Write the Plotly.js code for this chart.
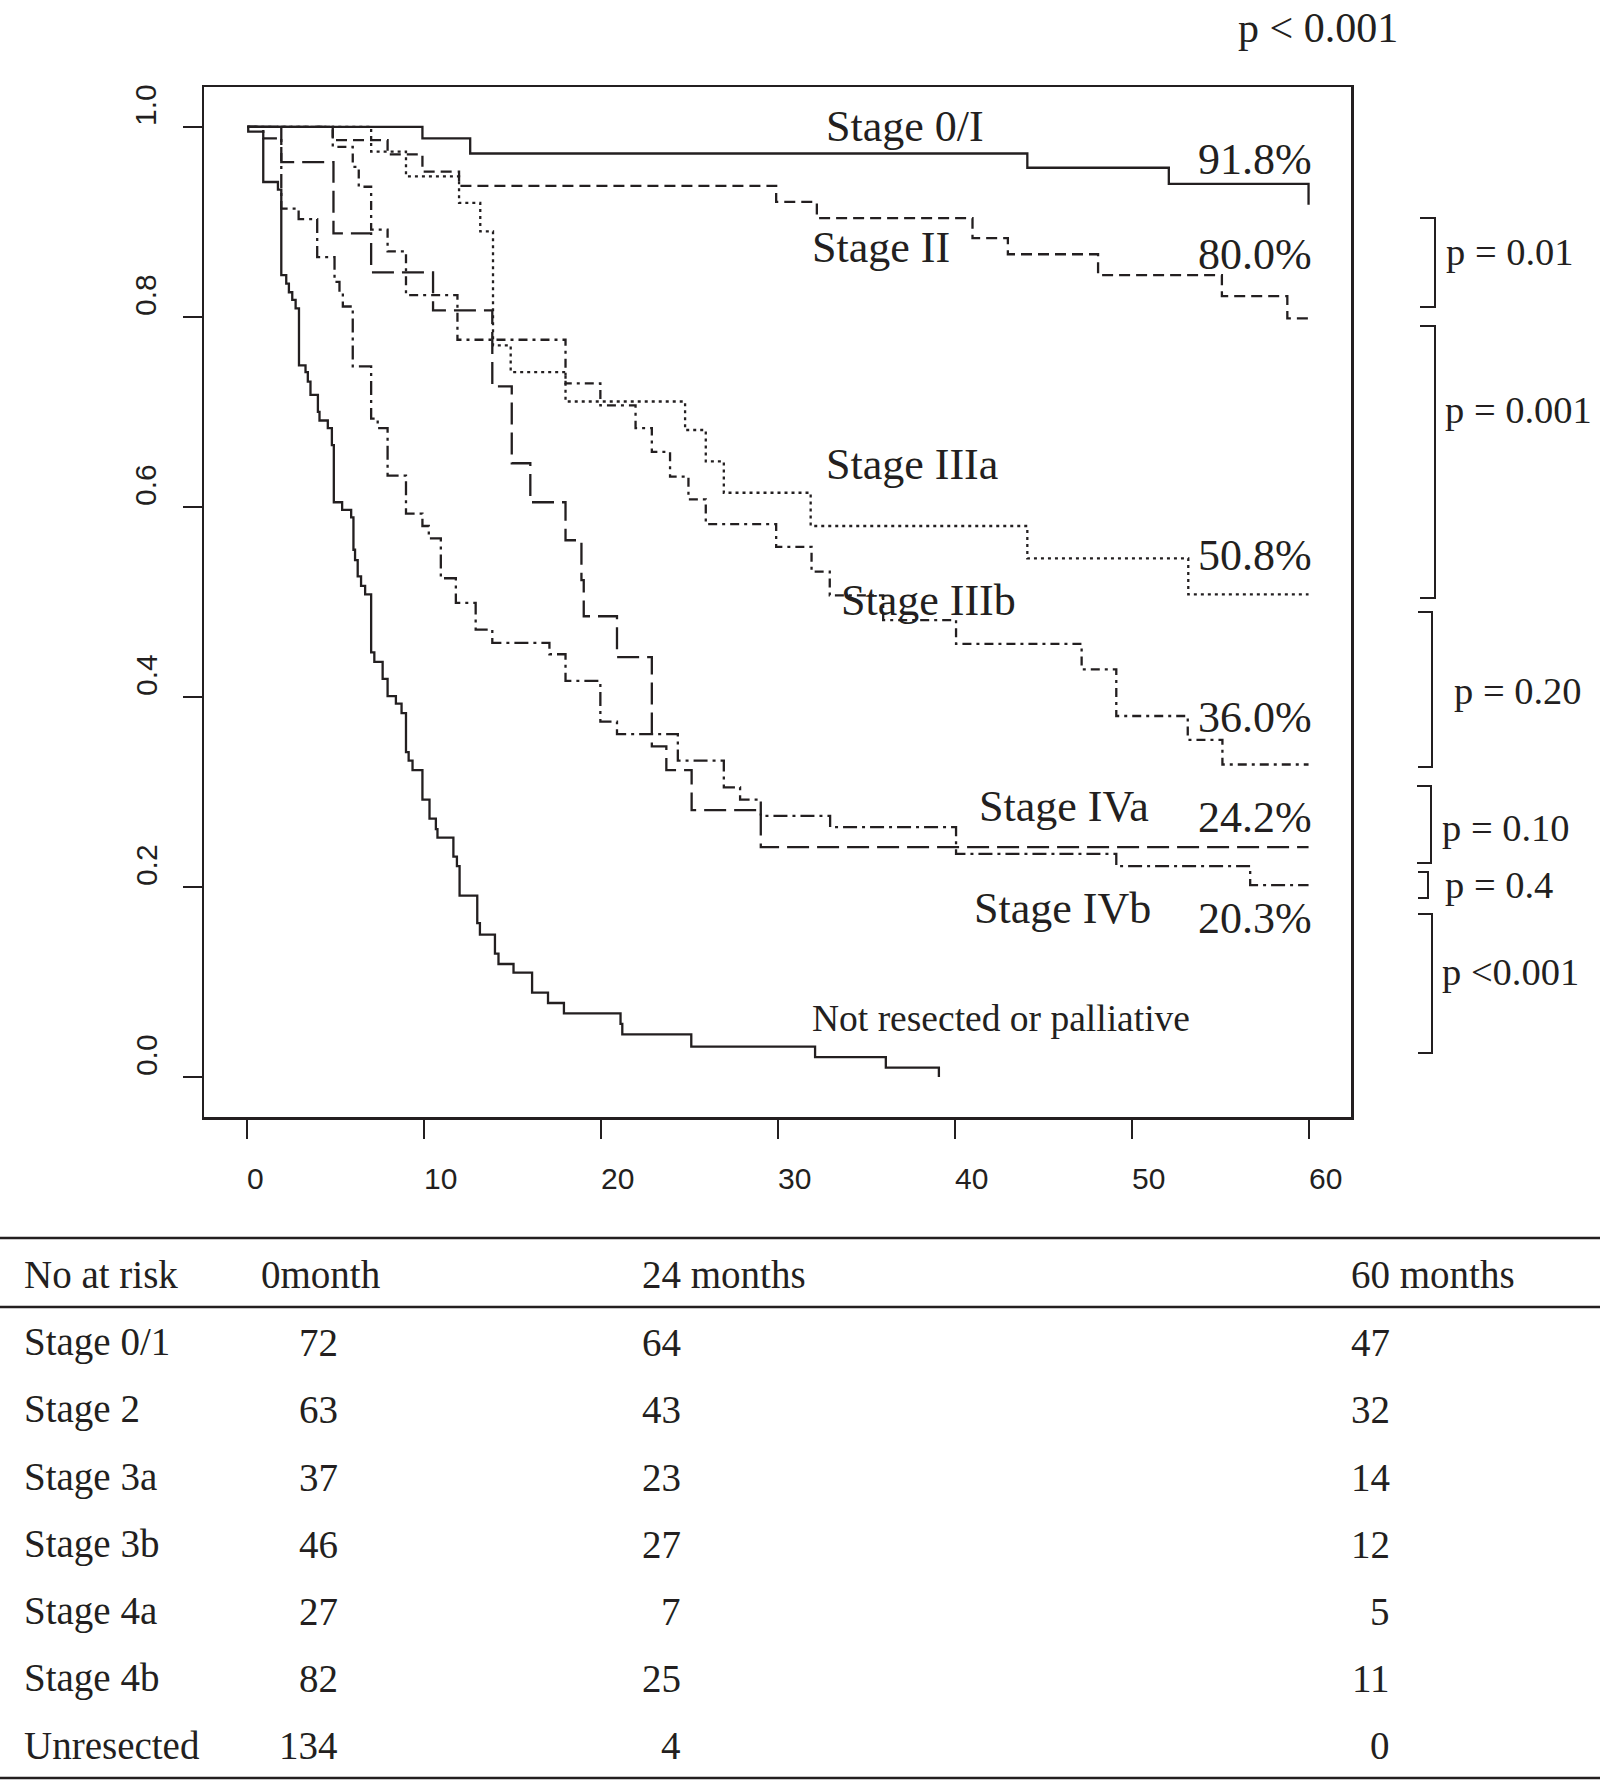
<!DOCTYPE html>
<html>
<head>
<meta charset="utf-8">
<script src="https://cdn.plot.ly/plotly-3.0.1.min.js"></script>
<style>html,body{margin:0;padding:0;background:#fff;}#chart{width:1600px;height:1780px;}</style>
</head>
<body>
<div id="chart"></div>
<script>
// ---------------- data ----------------
var stage0Time = [0, 9.9, 12.6, 44.1, 52.1, 60];
var stage0Surv = [1.0, 0.988, 0.972, 0.957, 0.940, 0.918];

var stage2Time = [0, 4.83, 7.93, 9.9, 11.97, 29.9, 32.2, 41.0, 43.0, 48.1, 55.1, 58.8, 60];
var stage2Surv = [1.0, 0.986, 0.971, 0.953, 0.938, 0.921, 0.904, 0.883, 0.866, 0.844, 0.822, 0.7985, 0.7985];

var stage3aTime = [0, 7.0, 8.97, 11.97, 13.17, 13.89, 14.89, 17.99, 24.75, 25.92, 26.94, 31.85, 44.1, 53.2, 60];
var stage3aSurv = [1.0, 0.974, 0.948, 0.920, 0.890, 0.770, 0.742, 0.711, 0.681, 0.648, 0.615, 0.580, 0.546, 0.508, 0.508];

var stage3bTime = [0, 4.83, 5.96, 6.3, 7.0, 7.93, 8.97, 11.88, 17.99, 19.96, 21.95, 22.87, 23.9, 24.94, 25.92, 29.9, 31.9, 32.93, 35.95, 40.07, 47.17, 49.13, 53.17, 55.13, 60];
var stage3bSurv = [1.0, 0.979, 0.958, 0.937, 0.892, 0.869, 0.823, 0.776, 0.730, 0.707, 0.683, 0.658, 0.632, 0.608, 0.582, 0.558, 0.532, 0.507, 0.481, 0.456, 0.429, 0.380, 0.355, 0.329, 0.329];

var stage4aTime = [0, 1.92, 4.87, 7.0, 10.5, 13.85, 14.95, 16.0, 17.99, 18.89, 19.02, 20.9, 22.87, 23.69, 25.12, 29.03, 60];
var stage4aSurv = [1.0, 0.963, 0.888, 0.847, 0.807, 0.727, 0.646, 0.605, 0.565, 0.523, 0.485, 0.442, 0.348, 0.323, 0.281, 0.242, 0.242];

var stage4bTime = [0, 0.9, 1.92, 2.9, 3.95, 4.93, 5.21, 5.4, 5.96, 7.0, 7.37, 7.93, 8.97, 9.9, 10.26, 10.94, 11.79, 12.91, 13.85, 17.08, 17.99, 19.96, 20.9, 24.34, 26.94, 27.86, 29.03, 32.95, 40.07, 49.13, 56.7, 60];
var stage4bSurv = [1.0, 0.988, 0.914, 0.903, 0.863, 0.837, 0.825, 0.811, 0.748, 0.693, 0.683, 0.633, 0.593, 0.580, 0.567, 0.525, 0.499, 0.471, 0.457, 0.445, 0.417, 0.374, 0.361, 0.333, 0.305, 0.292, 0.275, 0.263, 0.235, 0.222, 0.202, 0.202];

var unresTime = [0, 0.05, 0.9, 1.73, 1.92, 2.2, 2.35, 2.54, 2.73, 2.92, 3.29, 3.42, 3.57, 3.99, 4.08, 4.55, 4.78, 4.89, 5.36, 5.87, 6.0, 6.09, 6.24, 6.43, 6.66, 7.0, 7.18, 7.65, 7.93, 8.4, 8.72, 8.97, 9.12, 9.34, 9.9, 10.3, 10.66, 10.75, 11.65, 11.85, 12.0, 13.0, 13.15, 14.0, 14.2, 15.05, 16.1, 17.0, 17.9, 21.1, 21.2, 25.1, 32.1, 36.1, 39.1];
var unresSurv = [1.0, 0.995, 0.942, 0.934, 0.844, 0.835, 0.826, 0.818, 0.809, 0.749, 0.742, 0.732, 0.718, 0.700, 0.691, 0.683, 0.665, 0.605, 0.597, 0.589, 0.555, 0.544, 0.527, 0.517, 0.508, 0.447, 0.437, 0.419, 0.401, 0.393, 0.383, 0.342, 0.333, 0.323, 0.292, 0.272, 0.261, 0.252, 0.232, 0.222, 0.191, 0.162, 0.150, 0.130, 0.119, 0.110, 0.089, 0.078, 0.067, 0.056, 0.045, 0.032, 0.021, 0.010, 0.0];

var curveLabels = ['Stage 0/I', 'Stage II', 'Stage IIIa', 'Stage IIIb', 'Stage IVa', 'Stage IVb', 'Not resected or palliative'];
var pctLabels = ['91.8%', '80.0%', '50.8%', '36.0%', '24.2%', '20.3%'];
var pLabels = ['p = 0.01', 'p = 0.001', 'p = 0.20', 'p = 0.10', 'p = 0.4', 'p <0.001'];
var overallP = 'p < 0.001';

var xTicks = [0, 10, 20, 30, 40, 50, 60];
var yTicks = [0, 0.2, 0.4, 0.6, 0.8, 1.0];

var riskHeader = ['No at risk', '0month', '24 months', '60 months'];
var riskGroups = ['Stage 0/1', 'Stage 2', 'Stage 3a', 'Stage 3b', 'Stage 4a', 'Stage 4b', 'Unresected'];
var risk0 = [72, 63, 37, 46, 27, 82, 134];
var risk24 = [64, 43, 23, 27, 7, 25, 4];
var risk60 = [47, 32, 14, 12, 5, 11, 0];

// ---------------- layout helpers ----------------
var INK = '#231f20';
var SERIF = '"Liberation Serif", "Times New Roman", Times, serif';
var SANS = '"Liberation Sans", Arial, Helvetica, sans-serif';
var L = 204, R = 1351, T = 87, B = 1117, W = 1600, H = 1780;
function px(x) { return (x - L) / (R - L); }
function py(y) { return (B - y) / (B - T); }

var curves = [
  {t: stage0Time, s: stage0Surv, dash: 'solid'},
  {t: stage2Time, s: stage2Surv, dash: '11px,6px'},
  {t: stage3aTime, s: stage3aSurv, dash: '3px,4px'},
  {t: stage3bTime, s: stage3bSurv, dash: '9px,5px,3px,5px'},
  {t: stage4aTime, s: stage4aSurv, dash: '22px,8px'},
  {t: stage4bTime, s: stage4bSurv, dash: '14px,5px,3px,5px'},
  {t: unresTime, s: unresSurv, dash: 'solid'}
];

var traces = curves.map(function (c, i) {
  return {
    x: c.t, y: c.s, type: 'scatter', mode: 'lines', name: curveLabels[i],
    line: {shape: 'hv', width: 2.3, color: INK, dash: c.dash},
    hoverinfo: 'skip'
  };
});

var ann = [];
function txt(o) { o.showarrow = false; ann.push(o); }

// curve labels (data-anchored)
var labelPos = [[37.2, 1.0], [35.85, 0.873], [37.6, 0.645], [38.5, 0.502], [46.2, 0.285], [46.1, 0.177], [42.6, 0.062]];
curveLabels.forEach(function (lab, i) {
  txt({x: labelPos[i][0], y: labelPos[i][1], xref: 'x', yref: 'y', text: lab,
       font: {family: SERIF, size: i === 6 ? 37.5 : 44, color: INK}, xanchor: 'center', yanchor: 'middle'});
});
var pctPos = [0.966, 0.866, 0.549, 0.378, 0.273, 0.167];
pctLabels.forEach(function (lab, i) {
  txt({x: 60.3, y: pctPos[i], xref: 'x', yref: 'y', text: lab,
       font: {family: SERIF, size: 44, color: INK}, xanchor: 'right', yanchor: 'middle'});
});

// x tick labels, left-anchored at tick
xTicks.forEach(function (v) {
  txt({x: v, y: py(1178), xref: 'x', yref: 'paper', text: String(v), xshift: -2,
       font: {family: SANS, size: 30, color: INK}, xanchor: 'left', yanchor: 'middle'});
});
// y tick labels, rotated, starting at tick
yTicks.forEach(function (v) {
  txt({x: px(146), y: v, xref: 'paper', yref: 'y', text: v.toFixed(1), textangle: -90, yshift: -1,
       font: {family: SANS, size: 30, color: INK}, xanchor: 'center', yanchor: 'bottom'});
});

// overall p
txt({x: px(1236), y: py(28), xref: 'paper', yref: 'paper', text: overallP,
     font: {family: SERIF, size: 42, color: INK}, xanchor: 'left', yanchor: 'middle'});

// brackets + pairwise p
var brackets = [[1420, 1435, 218, 307], [1420, 1435, 326, 598], [1418, 1432, 612, 767], [1417, 1431, 786, 863], [1418, 1428, 872, 898], [1418, 1432, 914, 1053]];
var pTextPos = [[1446, 252], [1445, 410], [1454, 691], [1442, 828], [1445, 885], [1442, 972]];
var shapes = [];
brackets.forEach(function (b, i) {
  shapes.push({type: 'path', xref: 'paper', yref: 'paper',
    path: 'M' + px(b[0]) + ',' + py(b[2]) + ' L' + px(b[1]) + ',' + py(b[2]) + ' L' + px(b[1]) + ',' + py(b[3]) + ' L' + px(b[0]) + ',' + py(b[3]),
    line: {color: INK, width: 2}});
  txt({x: px(pTextPos[i][0] - 2), y: py(pTextPos[i][1]), xref: 'paper', yref: 'paper', text: pLabels[i],
       font: {family: SERIF, size: 38.5, color: INK}, xanchor: 'left', yanchor: 'middle'});
});

// at-risk table
[1238, 1307, 1778].forEach(function (yy) {
  shapes.push({type: 'line', xref: 'paper', yref: 'paper', x0: px(0), x1: px(1600), y0: py(yy), y1: py(yy),
               line: {color: INK, width: 2.5}});
});
var headX = [24, 261, 642, 1351];
riskHeader.forEach(function (h, i) {
  txt({x: px(headX[i] - 2), y: py(1274), xref: 'paper', yref: 'paper', text: h,
       font: {family: SERIF, size: 39, color: INK}, xanchor: 'left', yanchor: 'middle'});
});
var rowY = [1342, 1409, 1477, 1544, 1611, 1678, 1745];
riskGroups.forEach(function (g, i) {
  var f = {family: SERIF, size: 39, color: INK};
  txt({x: px(22), y: py(rowY[i]), xref: 'paper', yref: 'paper', text: g, font: f, xanchor: 'left', yanchor: 'middle'});
  txt({x: px(340), y: py(rowY[i]), xref: 'paper', yref: 'paper', text: String(risk0[i]), font: f, xanchor: 'right', yanchor: 'middle'});
  txt({x: px(683), y: py(rowY[i]), xref: 'paper', yref: 'paper', text: String(risk24[i]), font: f, xanchor: 'right', yanchor: 'middle'});
  txt({x: px(1392), y: py(rowY[i]), xref: 'paper', yref: 'paper', text: String(risk60[i]), font: f, xanchor: 'right', yanchor: 'middle'});
});

var layout = {
  width: W, height: H,
  margin: {l: L, r: W - R, t: T, b: H - B, pad: 0},
  paper_bgcolor: '#ffffff', plot_bgcolor: '#ffffff',
  showlegend: false,
  xaxis: {range: [-2.45, 62.4], tickvals: xTicks, showticklabels: false, ticks: 'outside', ticklen: 19, tickwidth: 2,
          tickcolor: INK, showgrid: false, zeroline: false, showline: true, linecolor: INK, linewidth: 2.5, mirror: true},
  yaxis: {range: [-0.042, 1.042], tickvals: yTicks, showticklabels: false, ticks: 'outside', ticklen: 19, tickwidth: 2,
          tickcolor: INK, showgrid: false, zeroline: false, showline: true, linecolor: INK, linewidth: 2.5, mirror: true},
  annotations: ann,
  shapes: shapes
};

Plotly.newPlot('chart', traces, layout, {staticPlot: true, displayModeBar: false});
</script>
</body>
</html>
